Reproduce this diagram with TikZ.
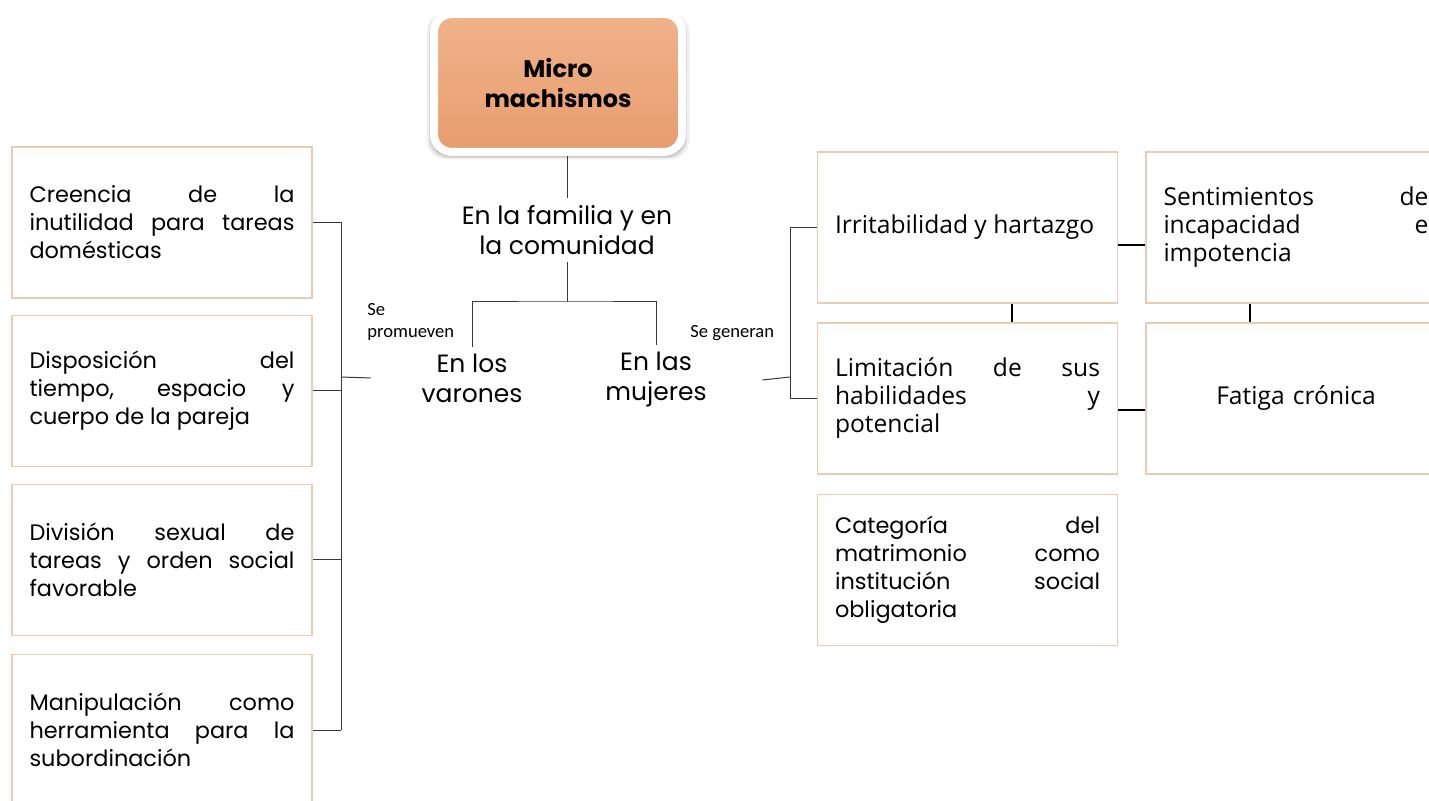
\documentclass[tikz,border=0pt]{standalone}
\usepackage{fontspec}
\setmainfont{Poppins}
\newfontfamily\sidefont{Open Sans}
\newfontfamily\notefont{Carlito}
\usetikzlibrary{shadows}
\definecolor{boxline}{HTML}{EACBB6}
\definecolor{microtop}{HTML}{F1B28A}
\definecolor{microbot}{HTML}{E79D6E}
\definecolor{wirecol}{HTML}{383838}
\begin{document}
\begin{tikzpicture}[x=0.5pt,y=-0.5pt,
  box/.style={draw=boxline, line width=0.8pt, minimum width=150pt, minimum height=75.5pt,
    inner sep=0pt, text width=132.5pt, align=justify, font=\fontsize{11.2}{14}\selectfont},
  sidebox/.style={box, font=\sidefont\fontsize{12.3}{14}\selectfont},
  micro/.style={rounded corners=9pt, draw=white, line width=4pt, top color=microtop,
    bottom color=microbot, minimum width=124pt, minimum height=69pt, align=center,
    font=\bfseries\fontsize{12}{15}\selectfont,
    drop shadow={shadow xshift=0pt, shadow yshift=-1.5pt, shadow scale=1.06,
      fill=black, opacity=0.06},
    drop shadow={shadow xshift=0pt, shadow yshift=-1.5pt, shadow scale=1.04,
      fill=black, opacity=0.1},
    drop shadow={shadow xshift=0pt, shadow yshift=-1.5pt, shadow scale=1.02,
      fill=black, opacity=0.15}},
  branch/.style={align=center, font=\fontsize{12.5}{15}\selectfont},
  notetext/.style={align=left, inner sep=1pt, font=\notefont\fontsize{9.3}{11}\selectfont},
  wire/.style={draw=wirecol, line width=0.5pt},
  link/.style={draw=black, line width=1pt}]
\clip (0,0) rectangle (1429,801);

% draw the title and the middle branches
\node[micro] (micro) at (558,83) {Micro\\machismos};
\node[branch] (familia) at (567,230) {En la familia y en\\la comunidad};
\node[branch, minimum width=101pt] (varones) at (472,378) {En los\\varones};
\node[branch, minimum width=106pt] (mujeres) at (656,380) {En las\\mujeres};
\node[notetext, anchor=south west] (promueven) at (365,343) {Se\\promueven};
\node[notetext, anchor=south west] (generan) at (688,343) {Se generan};
\coordinate (split) at (567,302);
\draw[wire] (micro.south -| familia.north) -- (familia.north);
\draw[wire] (familia) -- (split);
\draw[wire] (varones.north) |- (split) -| (mujeres.north);

% draw boxes on the left
\node[box] (creencia) at (162,222.5) {Creencia de la\linebreak inutilidad para tareas\linebreak domésticas};
\node[box] (disposicion) at (162,391) {Disposición del\linebreak tiempo, espacio y\linebreak cuerpo de la pareja};
\node[box] (division) at (162,560) {División sexual de\linebreak tareas y orden social\linebreak favorable};
\node[box] (manipulacion) at (162,730) {Manipulación como\linebreak herramienta para la\linebreak subordinación};
\coordinate (lbus) at (341,377);
\draw[wire] (varones.west) -- (lbus);
\draw[wire] (creencia.east -| lbus) -- (manipulacion.east -| lbus);
\foreach \b in {creencia,disposicion,division,manipulacion}
\draw[wire] (\b.east) -- (\b.east -| lbus);

% draw boxes on the right
\node[sidebox] (irrit) at (967.5,227.5) {Irritabilidad y hartazgo};
\node[sidebox] (sentim) at (1296,227.5) {Sentimientos de\linebreak incapacidad e\linebreak impotencia};
\node[sidebox] (limit) at (967.5,398.5) {Limitación de sus\linebreak habilidades y\linebreak potencial};
\node[sidebox, align=center] (fatiga) at (1296,398.5) {Fatiga crónica};
\node[box] (categoria) at (967.5,570) {Categoría del\linebreak matrimonio como\linebreak institución social\linebreak obligatoria};
\coordinate (rbus) at (790,377);
\draw[wire] (mujeres.east) -- (rbus);
\draw[wire] (irrit.west -| rbus) -- (limit.west -| rbus);
\foreach \b in {irrit,limit}
\draw[wire] (\b.west) -- (\b.west -| rbus);

% draw short links between right boxes
\draw[link] ([yshift=-9pt]irrit.east) -- ([yshift=-9pt]irrit.east -| sentim.west);
\draw[link] ([yshift=-6pt]limit.east) -- ([yshift=-6pt]limit.east -| fatiga.west);
\draw[link] ([xshift=22pt]irrit.south) -- ([xshift=22pt]irrit.south |- limit.north);
\draw[link] ([xshift=-23pt]sentim.south) -- ([xshift=-23pt]sentim.south |- fatiga.north);
\end{tikzpicture}
\end{document}
